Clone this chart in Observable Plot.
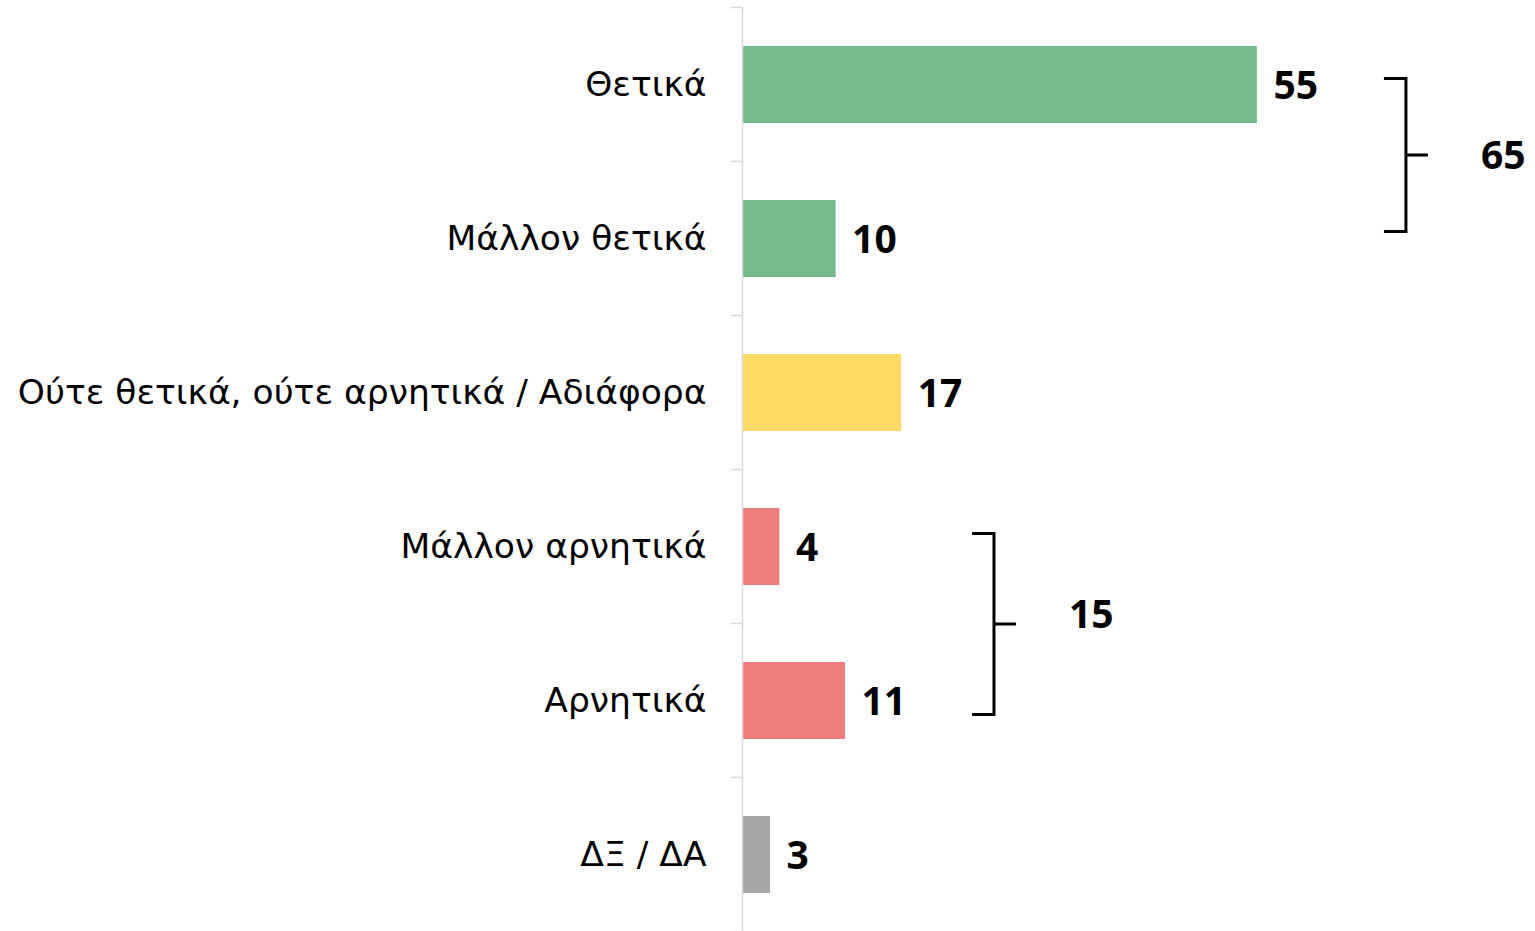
<!DOCTYPE html>
<html>
<head>
<meta charset="utf-8">
<script src="https://cdn.jsdelivr.net/npm/d3@7"></script>
<script src="https://cdn.jsdelivr.net/npm/@observablehq/plot@0.6"></script>
<style>
  html, body { margin: 0; padding: 0; background: #fff; }
  #chart svg { display: block; }
</style>
</head>
<body>
<div id="chart"></div>
<script>
const categories = ["Θετικά", "Μάλλον θετικά", "Ούτε θετικά, ούτε αρνητικά / Αδιάφορα", "Μάλλον αρνητικά", "Αρνητικά", "ΔΞ / ΔΑ"];
const values = [55, 10, 17, 4, 11, 3];
const colors = ["#75BA8B", "#75BA8B", "#FFD966", "#ED7E7E", "#ED7E7E", "#A6A6A6"];
const groupFrom = ["Θετικά", "Μάλλον αρνητικά"];
const groupTo = ["Μάλλον θετικά", "Αρνητικά"];
const groupTotals = [65, 15];

const data = categories.map((c, i) => ({category: c, value: values[i], color: colors[i]}));
const groups = groupTotals.map((t, i) => {
  const a = categories.indexOf(groupFrom[i]), b = categories.indexOf(groupTo[i]);
  return {from: groupFrom[i], to: groupTo[i], total: t, max: d3.max(values.slice(a, b + 1)), n: b - a + 1};
});

const W = 1535, H = 931;
const labelFont = "'DejaVu Sans', sans-serif";
const valueFont = "'Noto Sans', sans-serif";
const BR = 149;   // bracket offset (px) from the longest bar end
const ARM = 22;   // bracket arm length (px)

// boundary ticks between bands, drawn from the y band scale
function bandTicks(index, scales) {
  const y = scales.y, x = scales.x;
  const bw = y.bandwidth(), step = y.step();
  const doms = y.domain();
  const g = d3.create("svg:g");
  const x0 = x(0);
  const edges = doms.map(d => y(d) - (step - bw) / 2);
  edges.push(y(doms[doms.length - 1]) + bw + (step - bw) / 2);
  for (const e of edges) {
    g.append("line").attr("x1", x0 - 11).attr("x2", x0).attr("y1", e).attr("y2", e)
      .attr("stroke", "#d9d9d9").attr("stroke-width", 1.5);
  }
  return g.node();
}

// brackets summing grouped bars, positioned from the scales
function brackets(index, scales) {
  const y = scales.y, x = scales.x;
  const bw = y.bandwidth();
  const g = d3.create("svg:g");
  groups.forEach((grp, i) => {
    const X = x(grp.max) + BR;
    const ext = i === 0 ? [-6, -7] : [-13, 14];
    const y1 = y(grp.from) + bw / 2 + ext[0];
    const y2 = y(grp.to) + bw / 2 + ext[1];
    const mid = (y1 + y2) / 2;
    g.append("path")
      .attr("d", `M${X - ARM},${y1}H${X}V${y2}H${X - ARM}M${X},${mid}H${X + ARM}`)
      .attr("fill", "none").attr("stroke", "#000").attr("stroke-width", 3);
    g.append("text")
      .attr("x", X + 75).attr("y", i === 0 ? mid : mid - 10).attr("dy", "0.35em")
      .attr("text-anchor", "start")
      .attr("font-family", valueFont).attr("font-size", 39).attr("font-weight", "bold")
      .attr("fill", "#000").text(String(grp.total));
  });
  return g.node();
}

const chart = Plot.plot({
  width: W,
  height: H,
  marginLeft: 742,
  marginRight: 0,
  marginTop: 7,
  marginBottom: 0,
  style: {fontFamily: labelFont, background: "#fff"},
  x: {domain: [0, 84.7], axis: null},
  y: {domain: categories, paddingInner: 0.5, paddingOuter: 0.25, label: null},
  marks: [
    Plot.axisY({tickSize: 0, tickPadding: 36, fontSize: 34.5, fill: "#000", label: null, fontFamily: labelFont}),
    Plot.barX(data, {y: "category", x: "value", fill: "color"}),
    Plot.ruleX([0], {stroke: "#d9d9d9", strokeWidth: 1.5}),
    bandTicks,
    Plot.text(data, {y: "category", x: "value", text: d => String(d.value), textAnchor: "start", dx: 16, dy: 2, fontSize: 39, fontWeight: "bold", fill: "#000", fontFamily: valueFont}),
    brackets
  ]
});

document.getElementById("chart").appendChild(chart);
</script>
</body>
</html>
